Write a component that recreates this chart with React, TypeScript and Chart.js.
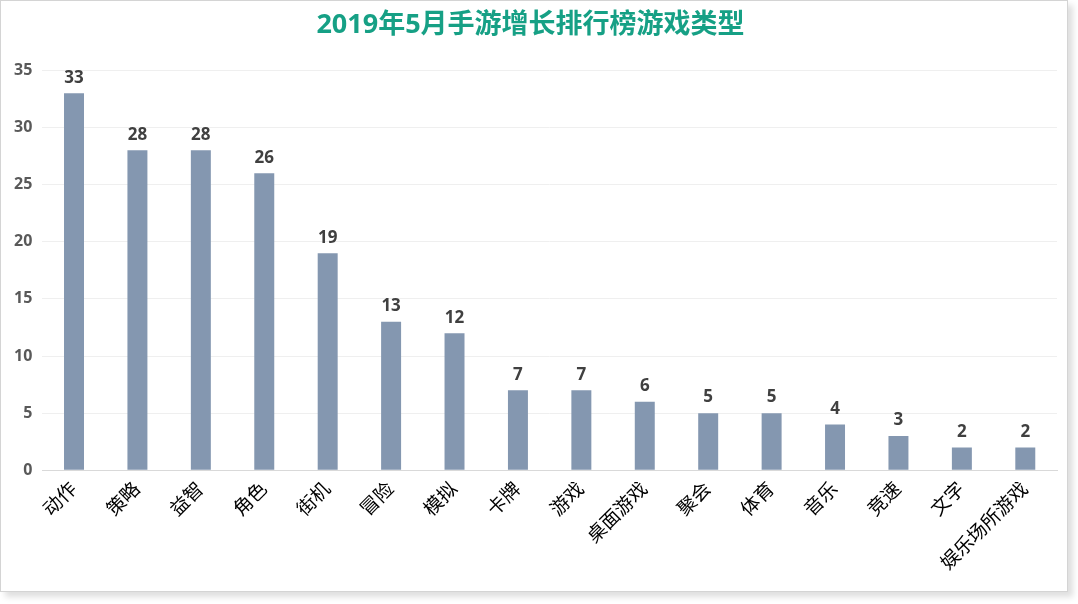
import React, { useEffect, useRef } from "react";
import { Chart, registerables } from "chart.js";

Chart.register(...registerables);

const categories = ["动作", "策略", "益智", "角色", "街机", "冒险", "模拟", "卡牌", "游戏", "桌面游戏", "聚会", "体育", "音乐", "竞速", "文字", "娱乐场所游戏"];
const values = [33, 28, 28, 26, 19, 13, 12, 7, 7, 6, 5, 5, 4, 3, 2, 2];
const yTicks = [0, 5, 10, 15, 20, 25, 30, 35];

const FONT = "'Open Sans', 'Noto Sans CJK SC', sans-serif";

const dataLabels = {
  id: "dataLabels",
  afterDatasetsDraw(chart: any) {
    const ctx = chart.ctx;
    const meta = chart.getDatasetMeta(0);
    const ds = chart.data.datasets[0];
    ctx.save();
    ctx.font = `bold 17px ${FONT}`;
    ctx.fillStyle = "#404040";
    ctx.textAlign = "center";
    ctx.textBaseline = "bottom";
    meta.data.forEach((bar: any, i: number) => {
      ctx.fillText(String(ds.data[i]), bar.x, bar.y - 7);
    });
    ctx.restore();
  },
};

export default function App() {
  const ref = useRef<HTMLCanvasElement>(null);
  useEffect(() => {
    if (!ref.current) return;
    const chart = new Chart(ref.current, {
      type: "bar",
      data: {
        labels: categories,
        datasets: [
          {
            data: values,
            backgroundColor: "#8497B0",
            barPercentage: 0.63,
            categoryPercentage: 0.5,
          },
        ],
      },
      options: {
        animation: false,
        responsive: true,
        maintainAspectRatio: false,
        layout: { padding: { left: 3, right: 10, top: 0, bottom: 16 } },
        plugins: {
          legend: { display: false },
          tooltip: { enabled: false },
          title: {
            display: true,
            text: "2019年5月手游增长排行榜游戏类型",
            color: "#16A085",
            font: { family: FONT, size: 27, weight: "bold" },
            padding: { top: 8, bottom: 29 },
          },
        },
        scales: {
          x: {
            grid: { display: false },
            border: { color: "#d9d9d9", width: 1 },
            ticks: {
              color: "#000000",
              font: { family: FONT, size: 19 },
              maxRotation: 45,
              minRotation: 45,
              autoSkip: false,
              padding: 0,
            },
          },
          y: {
            min: 0,
            max: 35,
            afterBuildTicks(scale: any) {
              scale.ticks = yTicks.map((v) => ({ value: v }));
            },
            grid: { color: "#efefef", drawTicks: false },
            border: { display: false },
            ticks: {
              color: "#595959",
              font: { family: FONT, size: 16, weight: "bold" },
              padding: 10,
            },
          },
        },
      },
      plugins: [dataLabels],
    });
    return () => chart.destroy();
  }, []);

  return (
    <div
      style={{
        position: "absolute",
        left: 0,
        top: 0,
        width: 1066,
        height: 590,
        border: "1px solid #d4d4d4",
        boxShadow: "5px 5px 6px rgba(0,0,0,0.13)",
        background: "#ffffff",
      }}
    >
      <canvas ref={ref} style={{ width: "100%", height: "100%" }} />
    </div>
  );
}
